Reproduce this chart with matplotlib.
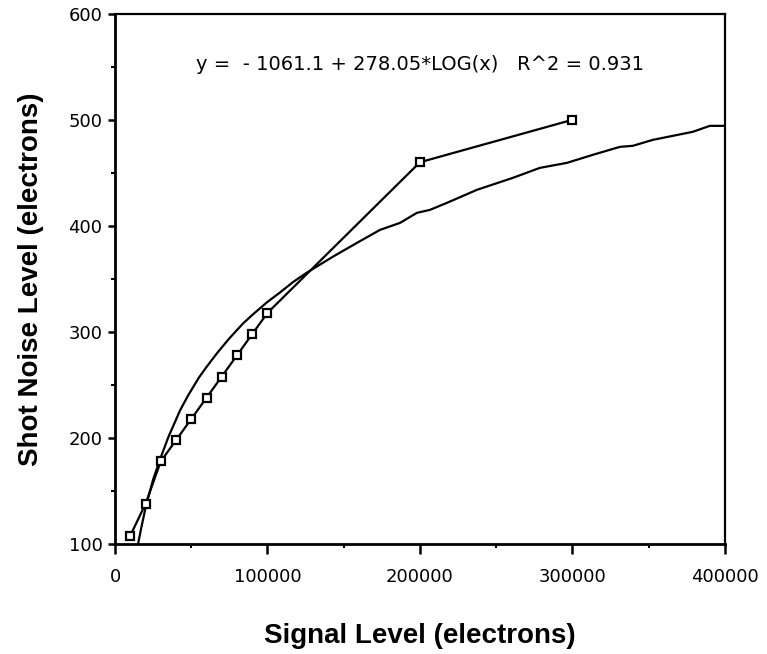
import matplotlib

matplotlib.use("Agg")
import matplotlib.pyplot as plt
from matplotlib.ticker import MultipleLocator

# measured points (square markers)
signal = [10000, 20000, 30000, 40000, 50000, 60000, 70000, 80000, 90000,
          100000, 200000, 300000]
noise = [108, 138, 178, 198, 218, 238, 258, 278, 298, 318, 460, 500]

# fitted curve as it appears on the chart
fit_x = [15080, 17000, 19670, 22000, 25000, 29510, 35000, 42620, 47870,
         55000, 60000, 66890, 75000, 83930, 90000, 99670, 108000, 116720,
         125900, 142950, 158690, 173770, 186890, 198030, 206560, 217710,
         237380, 260980, 278690, 296390, 313440, 331150, 339670, 352790,
         379020, 390160, 400000]
fit_y = [100, 114, 132, 145, 161, 180, 201, 226, 240, 257, 267, 280,
         294, 308, 316, 328, 337, 347, 356, 371, 384, 396.2, 402.8, 412.3,
         415.1, 421.7, 434, 445.3, 454.7, 459.4, 467, 474.5, 475.5, 481.1,
         488.7, 494.3, 494.3]

x_ticks = [0, 100000, 200000, 300000, 400000]
y_ticks = [100, 200, 300, 400, 500, 600]
equation = "y =  - 1061.1 + 278.05*LOG(x)   R^2 = 0.931"

fig = plt.figure(figsize=(7.67, 6.54), dpi=100)
ax = fig.add_axes([0.150, 0.168, 0.795, 0.811])

ax.plot(fit_x, fit_y, color="black", linewidth=1.6)
ax.plot(signal, noise, color="black", linewidth=1.6, marker="s",
        markersize=6, markerfacecolor="white", markeredgecolor="black",
        markeredgewidth=1.6)

ax.set_xlim(0, 400000)
ax.set_ylim(100, 600)
ax.set_xticks(x_ticks)
ax.set_yticks(y_ticks)
ax.set_xticklabels([str(v) for v in x_ticks])
ax.xaxis.set_minor_locator(MultipleLocator(50000))
ax.yaxis.set_minor_locator(MultipleLocator(50))
ax.tick_params(which="major", direction="out", length=7, width=1.8,
               labelsize=13)
ax.tick_params(axis="x", which="major", pad=10)
ax.tick_params(axis="y", which="major", pad=4, length=5)
ax.tick_params(which="minor", direction="out", length=3, width=1.5)

for side in ("left", "bottom"):
    ax.spines[side].set_linewidth(2.0)
for side in ("top", "right"):
    ax.spines[side].set_linewidth(1.6)

ax.text(0.5, 0.905, equation, transform=ax.transAxes, ha="center",
        va="center", fontsize=14)

label_font = dict(family="Liberation Sans", fontsize=20, fontweight="bold")
ax.set_xlabel("Signal Level (electrons)", labelpad=27, **label_font)
ax.set_ylabel("Shot Noise Level (electrons)", labelpad=18, **label_font)

fig.savefig("out.png", dpi=100)
